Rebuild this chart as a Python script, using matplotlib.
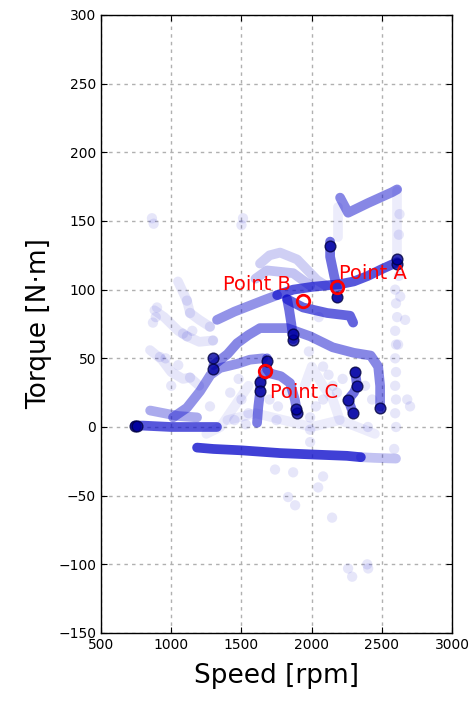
import matplotlib
matplotlib.use("Agg")
import matplotlib.pyplot as plt

# --- operating-point traces (speed rpm, torque N.m) ---
idle_speed = [742, 800, 900, 1000, 1100, 1200, 1326]
idle_torque = [1, 1, 0.5, 0, 0, 0, 0]

low_speed = [850, 950, 1050, 1184]
low_torque = [12, 10, 8, 7]

rise_speed = [1013, 1112, 1205, 1280, 1348, 1470, 1560, 1654]
rise_torque = [7, 14, 26, 38, 43, 46, 49, 50]

coast_speed = [1184, 1300, 1500, 1775, 2000, 2250, 2350]
coast_torque = [-15, -16, -17, -19, -20, -21, -22]
coast_tail_speed = [2350, 2450, 2600]
coast_tail_torque = [-22, -22.5, -23]

arc_speed = [1300, 1400, 1469, 1550, 1632, 1825, 1990, 2150, 2300, 2420, 2473, 2487, 2487]
arc_torque = [45, 53, 61, 67, 72, 72, 66, 58, 54, 52, 44, 30, 15]

mid_speed = [1326, 1450, 1550, 1650, 1754, 1868, 2000, 2100, 2202, 2300, 2400, 2500, 2608]
mid_torque = [78, 84, 88, 92, 96, 100, 102, 103, 104, 106, 110, 115, 120]

drop_speed = [1825, 1840, 1855, 1868]
drop_torque = [93, 85, 75, 64]

bend_speed = [1825, 1939, 2110, 2273, 2295]
bend_torque = [93, 87, 83, 81, 76]

top_speed = [2202, 2259, 2400, 2573, 2608]
top_torque = [167, 156, 163, 171, 173]

climb_speed = [2131, 2131, 2160, 2181, 2181]
climb_torque = [135, 124, 110, 101, 94]

c_speed = [1682, 1682, 1650, 1632, 1632, 1620, 1611]
c_torque = [50, 42, 36, 33, 25, 15, 3]

c_curve_speed = [1682, 1704, 1780, 1846, 1880, 1896]
c_curve_torque = [42, 39, 37, 32, 20, 11]

hold_speed = [2309, 2323, 2300, 2259, 2295]
hold_torque = [40, 30, 25, 20, 10]

# faint transitions
arc_hi_speed = [1632, 1700, 1775, 1896, 2038, 2100]
arc_hi_torque = [119, 125, 127, 122, 107, 103]
arc_lo_speed = [1600, 1682, 1868, 1989]
arc_lo_torque = [108, 114, 112, 103]
col_a_speed = [2608, 2608, 2608]
col_a_torque = [172, 150, 120]
col_b_speed = [2188, 2188]
col_b_torque = [160, 138]
left_a_speed = [880, 950, 1050, 1112, 1200, 1298]
left_a_torque = [85, 80, 70, 66, 62, 63]
left_b_speed = [1048, 1112, 1134, 1200, 1276]
left_b_torque = [106, 92, 83, 78, 73]
left_c_speed = [849, 934, 1000, 1084, 1134, 1200]
left_c_torque = [56, 49, 40, 35, 36, 30]
haze_a_speed = [1400, 1600, 1800, 2000, 2200, 2450]
haze_a_torque = [5, 10, 5, 0, 5, -5]
haze_b_speed = [1950, 2000, 2081, 2150, 2200]
haze_b_torque = [30, 44, 30, 20, 5]
haze_c_speed = [1250, 1350, 1450, 1550]
haze_c_torque = [-5, 0, 15, 30]

# dwell points (heavily overlapped samples)
dwell_speed = [742, 760, 1300, 1300, 1868, 1868, 1682, 1632, 1632, 1896, 1890,
               2309, 2323, 2259, 2295, 2487, 2181, 2608, 2608, 2131]
dwell_torque = [1, 1, 42, 50, 63, 68, 48, 33, 26, 10, 13,
                40, 30, 20, 10, 14, 95, 119, 122, 132]

# isolated samples
lone_speed = [863, 875, 1511, 1500, 899, 890, 870, 1112, 1134, 1112, 1150,
              1276, 1298, 1084, 920, 960, 1134, 1276, 1000, 1050,
              2594, 2600, 2608, 2594, 2600, 2594, 2600, 2594, 2600, 2594, 2600,
              2665, 2680, 2700, 2620, 2625,
              1868, 2081, 2046, 1832, 1882, 2145, 2259, 2288, 2395, 2402, 2587, 1739,
              2081, 2081, 1989, 1989, 1989, 2150, 1550, 1500, 1450, 1750, 2400,
              2620, 2630, 2615, 1420, 1480, 1530, 1700, 1760, 1820, 2030, 2120,
              2180, 2220, 2380, 2430, 1980, 2050]
lone_torque = [152, 148, 152, 147, 87, 80, 76, 92, 83, 66, 70,
               73, 63, 68, 51, 50, 36, 15, 30, 45,
               100, 90, 80, 70, 60, 50, 40, 30, 20, 10, 0,
               78, 20, 15, 140, 155,
               -33, -36, -44, -51, -57, -66, -103, -109, -100, -103, -16, -31,
               44, 20, 7, -2, -11, 30, 10, 20, 5, 5, 0,
               110, 95, 60, 25, 35, 2, 20, 15, 25, 15, 38,
               25, 35, 30, 20, 55, 80]

# marked operating points
mark_names = ["Point A", "Point B", "Point C"]
mark_speed = [2180, 1935, 1670]
mark_torque = [102, 92, 41]

BLUE = "#1010cc"

fig = plt.figure(figsize=(4.74, 7.06), dpi=100)
ax = fig.add_axes([0.213, 0.1034, 0.741, 0.8754])

traces = [
    (idle_speed, idle_torque, 0.7),
    (low_speed, low_torque, 0.35),
    (rise_speed, rise_torque, 0.45),
    (coast_speed, coast_torque, 0.8),
    (coast_tail_speed, coast_tail_torque, 0.25),
    (arc_speed, arc_torque, 0.5),
    (mid_speed[:5], mid_torque[:5], 0.45),
    (mid_speed[4:], mid_torque[4:], 0.7),
    (drop_speed, drop_torque, 0.6),
    (bend_speed, bend_torque, 0.65),
    (top_speed, top_torque, 0.5),
    (climb_speed, climb_torque, 0.6),
    (c_speed, c_torque, 0.55),
    (c_curve_speed, c_curve_torque, 0.5),
    (hold_speed, hold_torque, 0.6),
    (arc_hi_speed, arc_hi_torque, 0.2),
    (arc_lo_speed, arc_lo_torque, 0.25),
    (col_a_speed, col_a_torque, 0.08),
    (col_b_speed, col_b_torque, 0.08),
    (left_a_speed, left_a_torque, 0.1),
    (left_b_speed, left_b_torque, 0.1),
    (left_c_speed, left_c_torque, 0.1),
    (haze_a_speed, haze_a_torque, 0.08),
    (haze_b_speed, haze_b_torque, 0.08),
    (haze_c_speed, haze_c_torque, 0.08),
]
for sp, tq, a in traces:
    ax.plot(sp, tq, color=BLUE, lw=7, alpha=a, solid_capstyle="round",
            solid_joinstyle="round", zorder=2)

ax.scatter(lone_speed, lone_torque, s=55, color=BLUE, alpha=0.1,
           edgecolors="none", zorder=2)
ax.scatter(dwell_speed, dwell_torque, s=60, color="#0000a0", alpha=0.8,
           edgecolors="#000040", linewidths=1, zorder=3)

ax.plot(mark_speed, mark_torque, "o", ms=9, mfc="none", mec="red", mew=2,
        ls="none", zorder=4)
ax.text(2195, 108, mark_names[0], color="red", fontsize=14, zorder=5)
ax.text(1855, 100, mark_names[1], color="red", fontsize=14, ha="right", zorder=5)
ax.text(1700, 21, mark_names[2], color="red", fontsize=14, zorder=5)

ax.set_xlim(500, 3000)
ax.set_ylim(-150, 300)
ax.set_xticks(range(500, 3001, 500))
ax.set_yticks(range(-150, 301, 50))
ax.tick_params(direction="in", top=True, right=True, length=4, labelsize=10)
ax.grid(True, color="#b0b0b0", linestyle=(0, (2.5, 3)), lw=1)
ax.set_axisbelow(True)
for s in ax.spines.values():
    s.set_linewidth(1)

ax.set_xlabel("Speed [rpm]", fontsize=19, labelpad=8)
ax.set_ylabel("Torque [N·m]", fontsize=19, labelpad=4)

fig.savefig("out.png", dpi=100)
